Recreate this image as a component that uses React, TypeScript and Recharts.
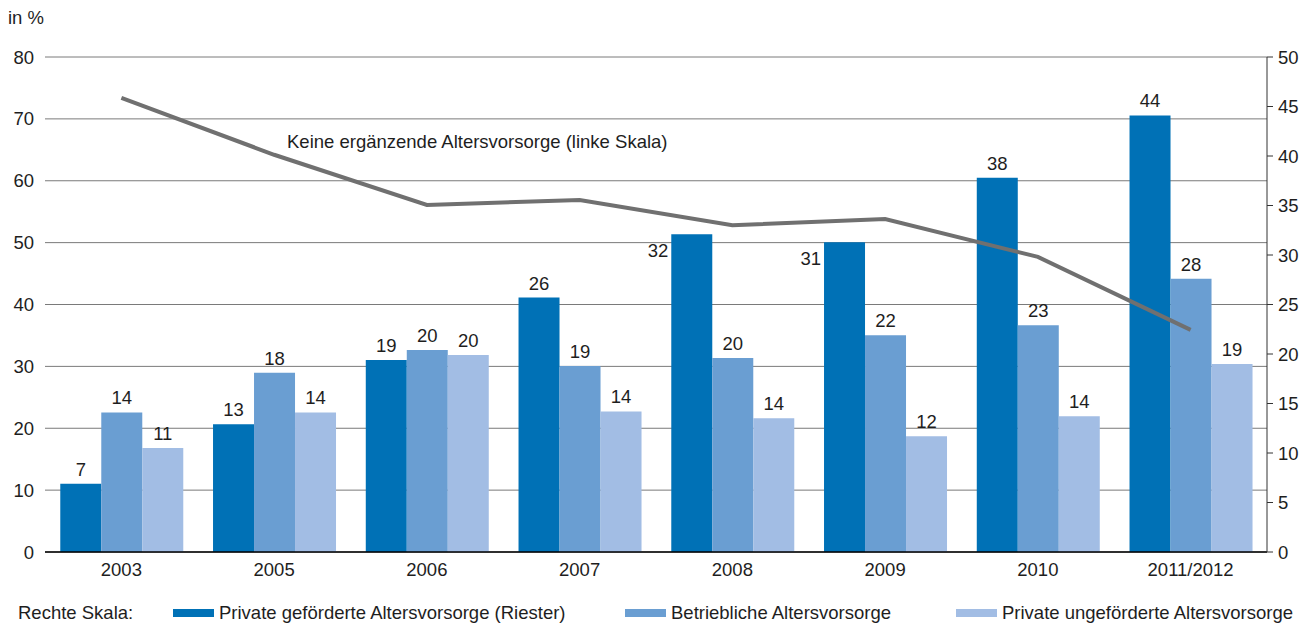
import { ComposedChart, Bar, Line, XAxis, YAxis, CartesianGrid, LabelList } from "recharts";

const categories = ["2003", "2005", "2006", "2007", "2008", "2009", "2010", "2011/2012"];
// right scale, in %
const riester = [6.9, 12.9, 19.4, 25.7, 32.1, 31.3, 37.8, 44.1];
const betrieblich = [14.1, 18.1, 20.4, 18.8, 19.6, 21.9, 22.9, 27.6];
const ungefoerdert = [10.5, 14.1, 19.9, 14.2, 13.5, 11.7, 13.7, 19.0];
// left scale, in %
const keine = [73.4, 64.2, 56.1, 56.9, 52.8, 53.8, 47.7, 35.9];

const leftTicks = [0, 10, 20, 30, 40, 50, 60, 70, 80];
const rightTicks = [0, 5, 10, 15, 20, 25, 30, 35, 40, 45, 50];

// categories where the Riester label sits left of the bar (line passes above)
const sideLabelCats = ["2008", "2009"];

const data = categories.map((cat, i) => ({
  cat,
  riester: riester[i],
  betrieblich: betrieblich[i],
  ungefoerdert: ungefoerdert[i],
  keine: keine[i],
}));

const DARK = "#0071b6";
const MID = "#6a9ed2";
const LIGHT = "#a2bde4";
const FONT = "'Liberation Sans', Arial, sans-serif";
const TEXT = "#1e1e1e";
const FS = 18.5;

const topLabel = (props: any) => {
  const { x, y, width, value } = props;
  return (
    <text x={x + width / 2} y={y - 8} textAnchor="middle" fontSize={FS} fill={TEXT} fontFamily={FONT}>
      {Math.round(value)}
    </text>
  );
};

const riesterLabel = (props: any) => {
  const { x, y, width, value, index } = props;
  if (sideLabelCats.includes(categories[index])) {
    return (
      <text x={x - 3} y={y + 23} textAnchor="end" fontSize={FS} fill={TEXT} fontFamily={FONT}>
        {Math.round(value)}
      </text>
    );
  }
  return topLabel({ x, y, width, value });
};

const legendItems = [
  { name: "Private geförderte Altersvorsorge (Riester)", color: DARK, left: 173 },
  { name: "Betriebliche Altersvorsorge", color: MID, left: 625 },
  { name: "Private ungeförderte Altersvorsorge", color: LIGHT, left: 956 },
];

export default function App() {
  return (
    <div style={{ position: "absolute", left: 0, top: 0, width: 1306, height: 623, background: "#fff", fontFamily: FONT, color: TEXT }}>
      <div style={{ position: "absolute", left: 8, top: 7, fontSize: FS, lineHeight: "22px" }}>in %</div>
      <ComposedChart
        width={1306}
        height={623}
        data={data}
        margin={{ top: 57, right: 0, left: 0, bottom: 41 }}
        barCategoryGap="10%"
        barGap={0}
      >
        <CartesianGrid yAxisId="left" vertical={false} stroke="#7a7a7a" strokeWidth={1} />
        <XAxis
          dataKey="cat"
          height={30}
          axisLine={{ stroke: "#000", strokeWidth: 1.5 }}
          tickLine={false}
          tickSize={0}
          tickMargin={11}
          tick={{ fontSize: FS, fill: TEXT, fontFamily: FONT }}
          interval={0}
        />
        <YAxis
          yAxisId="left"
          orientation="left"
          width={45}
          domain={[0, 80]}
          ticks={leftTicks}
          interval={0}
          axisLine={false}
          tickLine={false}
          tickSize={0}
          tickMargin={11}
          tick={{ fontSize: FS, fill: TEXT, fontFamily: FONT }}
        />
        <YAxis
          yAxisId="right"
          orientation="right"
          width={39}
          domain={[0, 50]}
          ticks={rightTicks}
          interval={0}
          axisLine={{ stroke: "#333" }}
          tickLine={{ stroke: "#333" }}
          tickSize={6}
          tickMargin={5}
          tick={{ fontSize: FS, fill: TEXT, fontFamily: FONT, textAnchor: "start" }}
        />
        <Bar yAxisId="right" dataKey="riester" fill={DARK} isAnimationActive={false}>
          <LabelList dataKey="riester" content={riesterLabel} />
        </Bar>
        <Bar yAxisId="right" dataKey="betrieblich" fill={MID} isAnimationActive={false}>
          <LabelList dataKey="betrieblich" content={topLabel} />
        </Bar>
        <Bar yAxisId="right" dataKey="ungefoerdert" fill={LIGHT} isAnimationActive={false}>
          <LabelList dataKey="ungefoerdert" content={topLabel} />
        </Bar>
        <Line
          yAxisId="left"
          dataKey="keine"
          type="linear"
          stroke="#707070"
          strokeWidth={4}
          dot={false}
          activeDot={false}
          isAnimationActive={false}
        />
      </ComposedChart>
      <div style={{ position: "absolute", left: 287, top: 131, fontSize: FS, whiteSpace: "nowrap", lineHeight: "22px" }}>
        Keine ergänzende Altersvorsorge (linke Skala)
      </div>
      <div style={{ position: "absolute", left: 18, top: 602, fontSize: FS, lineHeight: "22px" }}>Rechte Skala:</div>
      {legendItems.map((it) => (
        <div key={it.name} style={{ position: "absolute", left: it.left, top: 602, display: "flex", alignItems: "center", fontSize: FS, lineHeight: "22px", whiteSpace: "nowrap" }}>
          <span style={{ display: "inline-block", width: 41, height: 8, background: it.color, marginRight: 5 }} />
          <span>{it.name}</span>
        </div>
      ))}
    </div>
  );
}
